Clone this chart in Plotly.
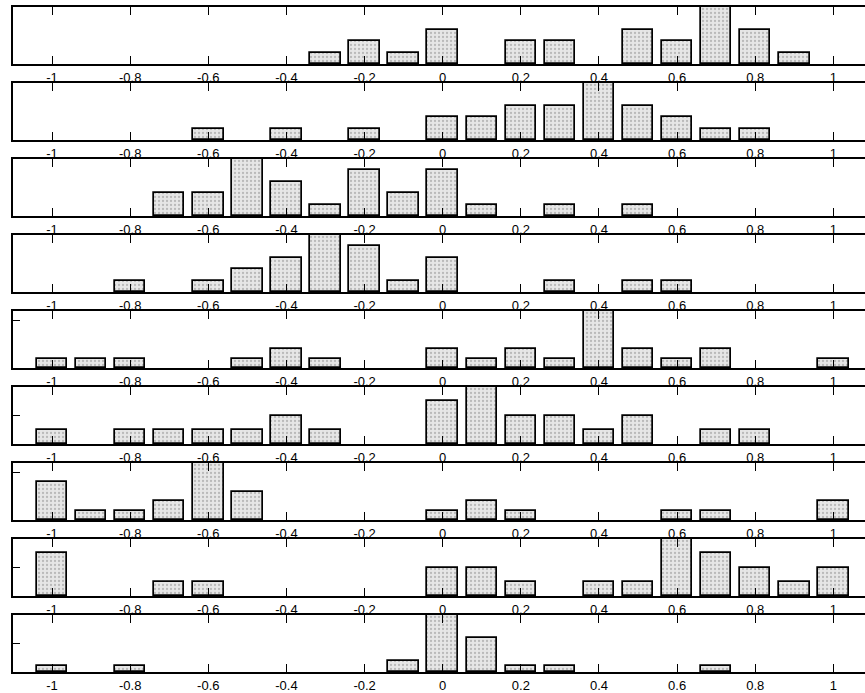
import plotly.graph_objects as go

bins = [-1.0, -0.9, -0.8, -0.7, -0.6, -0.5, -0.4, -0.3, -0.2, -0.1, 0.0,
        0.1, 0.2, 0.3, 0.4, 0.5, 0.6, 0.7, 0.8, 0.9, 1.0]

counts_1 = [0, 0, 0, 0, 0, 0, 0, 1, 2, 1, 3, 0, 2, 2, 0, 3, 2, 5, 3, 1, 0]
counts_2 = [0, 0, 0, 0, 1, 0, 1, 0, 1, 0, 2, 2, 3, 3, 5, 3, 2, 1, 1, 0, 0]
counts_3 = [0, 0, 0, 2, 2, 5, 3, 1, 4, 2, 4, 1, 0, 1, 0, 1, 0, 0, 0, 0, 0]
counts_4 = [0, 0, 1, 0, 1, 2, 3, 5, 4, 1, 3, 0, 0, 1, 0, 1, 1, 0, 0, 0, 0]
counts_5 = [1, 1, 1, 0, 0, 1, 2, 1, 0, 0, 2, 1, 2, 1, 6, 2, 1, 2, 0, 0, 1]
counts_6 = [1, 0, 1, 1, 1, 1, 2, 1, 0, 0, 3, 4, 2, 2, 1, 2, 0, 1, 1, 0, 0]
counts_7 = [4, 1, 1, 2, 6, 3, 0, 0, 0, 0, 1, 2, 1, 0, 0, 0, 1, 1, 0, 0, 2]
counts_8 = [3, 0, 0, 1, 1, 0, 0, 0, 0, 0, 2, 2, 1, 0, 1, 1, 4, 3, 2, 1, 2]
counts_9 = [1, 0, 1, 0, 0, 0, 0, 0, 0, 2, 10, 6, 1, 1, 0, 0, 0, 1, 0, 0, 0]

panels = [counts_1, counts_2, counts_3, counts_4, counts_5,
          counts_6, counts_7, counts_8, counts_9]
y_max = [5, 5, 5, 5, 6, 4, 6, 4, 10]
y_ticks = [[], [], [], [], [5], [2], [5], [2], [5]]

x_tickvals = [-1, -0.8, -0.6, -0.4, -0.2, 0, 0.2, 0.4, 0.6, 0.8, 1]
x_ticktext = ["-1", "-0.8", "-0.6", "-0.4", "-0.2", "0", "0.2", "0.4", "0.6", "0.8", "1"]

W, H = 865, 693
TOP0, STEP, PH = 7, 76, 57

fig = go.Figure()
layout = {}
for i, counts in enumerate(panels):
    n = "" if i == 0 else str(i + 1)
    top = TOP0 + STEP * i
    d0 = 1 - (top + PH) / H
    d1 = 1 - top / H
    xs = [b for b, c in zip(bins, counts) if c > 0]
    ys = [c for c in counts if c > 0]
    fig.add_trace(go.Bar(
        x=xs, y=ys, width=0.078,
        xaxis="x" + n, yaxis="y" + n,
        marker=dict(color="#e2e2e2",
                    line=dict(color="black", width=1.7),
                    pattern=dict(shape=".", fgcolor="#8c8c8c", bgcolor="#e6e6e6",
                                 size=4, solidity=0.25)),
        showlegend=False, hoverinfo="skip"))
    layout["xaxis" + n] = dict(
        domain=[0, 1], anchor="y" + n, range=[-1.1, 1.081],
        tickvals=x_tickvals, ticktext=x_ticktext,
        ticks="inside", ticklen=8, tickwidth=1.4, tickcolor="black",
        showline=True, linecolor="black", linewidth=1.7, mirror="allticks",
        showgrid=False, zeroline=False, ticklabelstandoff=1,
        tickfont=dict(family="Liberation Sans", size=13, color="black"))
    layout["yaxis" + n] = dict(
        domain=[d0, d1], anchor="x" + n, range=[0, y_max[i]],
        tickvals=y_ticks[i], ticks="inside", ticklen=7, tickwidth=1.3,
        tickcolor="black", showticklabels=False,
        showline=True, linecolor="black", linewidth=1.7, mirror=False,
        showgrid=False, zeroline=False)

fig.update_layout(
    width=W, height=H,
    margin=dict(l=13, r=0, t=0, b=0),
    paper_bgcolor="white", plot_bgcolor="white",
    bargap=0, **layout)

fig.write_html("out.html")
